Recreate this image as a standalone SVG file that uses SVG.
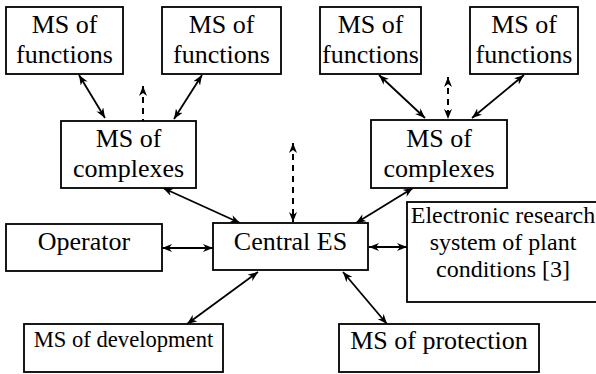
<svg xmlns="http://www.w3.org/2000/svg" width="596" height="374" viewBox="0 0 596 374">
<defs>
<marker id="a" viewBox="0 0 10 8" refX="10" refY="4" markerWidth="10" markerHeight="8" markerUnits="userSpaceOnUse" orient="auto-start-reverse">
<path d="M0,0 L10,4 L0,8 L3,4 z" fill="#000"/>
</marker>
</defs>
<rect width="596" height="374" fill="#fff"/>
<g id="connectors" fill="none" stroke="#000" stroke-width="1.8">
<line x1="79" y1="75" x2="105" y2="118" marker-start="url(#a)" marker-end="url(#a)"/>
<line x1="202" y1="75" x2="174" y2="119" marker-start="url(#a)" marker-end="url(#a)"/>
<line stroke-width="2" stroke-dasharray="6 5" x1="143" y1="86" x2="143" y2="130" marker-start="url(#a)" marker-end="url(#a)"/>
<line x1="379" y1="75" x2="425" y2="118" marker-start="url(#a)" marker-end="url(#a)"/>
<line x1="524" y1="75" x2="472" y2="118" marker-start="url(#a)" marker-end="url(#a)"/>
<line stroke-width="2" stroke-dasharray="6 5" x1="448" y1="77" x2="448" y2="119" marker-start="url(#a)" marker-end="url(#a)"/>
<line stroke-width="2" stroke-dasharray="6 5" x1="293" y1="143" x2="293" y2="222" marker-start="url(#a)" marker-end="url(#a)"/>
<line x1="163" y1="188" x2="240" y2="223" marker-start="url(#a)" marker-end="url(#a)"/>
<line x1="413" y1="188" x2="356" y2="223" marker-start="url(#a)" marker-end="url(#a)"/>
<line x1="162" y1="248" x2="213" y2="248" marker-start="url(#a)" marker-end="url(#a)"/>
<line x1="369" y1="247" x2="407" y2="247" marker-start="url(#a)" marker-end="url(#a)"/>
<line x1="258" y1="272" x2="187" y2="324" marker-start="url(#a)" marker-end="url(#a)"/>
<line x1="343" y1="272" x2="387" y2="324" marker-start="url(#a)" marker-end="url(#a)"/>
</g>
<g id="f1"><rect fill="#fff" stroke="#000" stroke-width="1.8" x="6" y="7" width="117" height="67"/><text style="font-family:'Liberation Serif',serif;font-size:26px" text-anchor="middle" x="64.5" y="33">MS of</text><text style="font-family:'Liberation Serif',serif;font-size:26px" text-anchor="middle" x="64.5" y="63">functions</text></g>
<g id="f2"><rect fill="#fff" stroke="#000" stroke-width="1.8" x="162" y="7" width="119" height="67"/><text style="font-family:'Liberation Serif',serif;font-size:26px" text-anchor="middle" x="221.5" y="33">MS of</text><text style="font-family:'Liberation Serif',serif;font-size:26px" text-anchor="middle" x="221.5" y="63">functions</text></g>
<g id="f3"><rect fill="#fff" stroke="#000" stroke-width="1.8" x="320" y="7" width="101" height="67"/><text style="font-family:'Liberation Serif',serif;font-size:26px" text-anchor="middle" x="370.5" y="33">MS of</text><text style="font-family:'Liberation Serif',serif;font-size:26px" text-anchor="middle" x="370.5" y="63">functions</text></g>
<g id="f4"><rect fill="#fff" stroke="#000" stroke-width="1.8" x="470" y="7" width="108" height="67"/><text style="font-family:'Liberation Serif',serif;font-size:26px" text-anchor="middle" x="524" y="33">MS of</text><text style="font-family:'Liberation Serif',serif;font-size:26px" text-anchor="middle" x="524" y="63">functions</text></g>
<g id="cx1"><rect fill="#fff" stroke="#000" stroke-width="1.8" x="61" y="121" width="135" height="67"/><text style="font-family:'Liberation Serif',serif;font-size:26px" text-anchor="middle" x="128.5" y="147">MS of</text><text style="font-family:'Liberation Serif',serif;font-size:26px" text-anchor="middle" x="128.5" y="177">complexes</text></g>
<g id="cx2"><rect fill="#fff" stroke="#000" stroke-width="1.8" x="371" y="120" width="136" height="68"/><text style="font-family:'Liberation Serif',serif;font-size:26px" text-anchor="middle" x="439" y="147">MS of</text><text style="font-family:'Liberation Serif',serif;font-size:26px" text-anchor="middle" x="439" y="177">complexes</text></g>
<g id="operator"><rect fill="#fff" stroke="#000" stroke-width="1.8" x="6" y="224" width="156" height="47"/><text style="font-family:'Liberation Serif',serif;font-size:26px" text-anchor="middle" x="84" y="250">Operator</text></g>
<g id="central"><rect fill="#fff" stroke="#000" stroke-width="1.8" x="213" y="223" width="155" height="47"/><text style="font-family:'Liberation Serif',serif;font-size:26px" text-anchor="middle" x="290.5" y="250">Central ES</text></g>
<g id="research"><rect fill="#fff" stroke="#000" stroke-width="1.8" x="407" y="202" width="192" height="100"/><text style="font-family:'Liberation Serif',serif;font-size:24px" text-anchor="middle" x="503" y="223">Electronic research</text><text style="font-family:'Liberation Serif',serif;font-size:24px" text-anchor="middle" x="503" y="250">system of plant</text><text style="font-family:'Liberation Serif',serif;font-size:24px" text-anchor="middle" x="503" y="277">conditions [3]</text></g>
<g id="development"><rect fill="#fff" stroke="#000" stroke-width="1.8" x="24" y="324" width="199" height="48"/><text style="font-family:'Liberation Serif',serif;font-size:22.6px" text-anchor="middle" x="123.5" y="347">MS of development</text></g>
<g id="protection"><rect fill="#fff" stroke="#000" stroke-width="1.8" x="339" y="324" width="200" height="48"/><text style="font-family:'Liberation Serif',serif;font-size:26px" text-anchor="middle" x="439" y="349">MS of protection</text></g>
</svg>
